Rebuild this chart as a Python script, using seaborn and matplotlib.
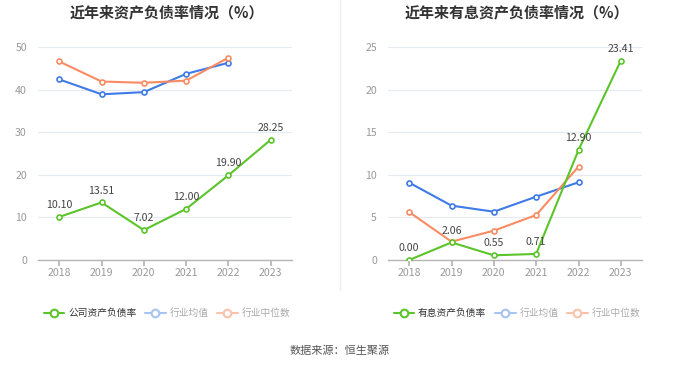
import matplotlib
matplotlib.use("Agg")
import matplotlib.pyplot as plt
from matplotlib.lines import Line2D
import seaborn as sns
import pandas as pd

years = ["2018", "2019", "2020", "2021", "2022", "2023"]

# Left chart: 资产负债率
company_debt = [10.10, 13.51, 7.02, 12.00, 19.90, 28.25]
industry_avg_left = [42.4, 38.9, 39.4, 43.7, 46.3]
industry_med_left = [46.6, 41.9, 41.6, 42.1, 47.5]

# Right chart: 有息资产负债率
interest_debt = [0.00, 2.06, 0.55, 0.71, 12.90, 23.41]
industry_avg_right = [9.08, 6.38, 5.67, 7.43, 9.12]
industry_med_right = [5.63, 2.15, 3.44, 5.28, 10.95]

left_title = "近年来资产负债率情况（%）"
right_title = "近年来有息资产负债率情况（%）"
left_names = ["公司资产负债率", "行业均值", "行业中位数"]
right_names = ["有息资产负债率", "行业均值", "行业中位数"]
source_text = "数据来源：恒生聚源"

GREEN = "#5cc42b"
BLUE = "#3f7be6"
ORANGE = "#fa8b63"
LBLUE = "#a8c3f3"
LORANGE = "#fcc1aa"

sns.set_theme(style="white")
plt.rcParams["font.family"] = ["Noto Sans CJK SC", "DejaVu Sans"]

fig = plt.figure(figsize=(6.8, 3.67), dpi=100)
ax1 = fig.add_axes([38/680, 1-260/367, 254/680, 213/367])
ax2 = fig.add_axes([388/680, 1-260/367, 254/680, 213/367])


def draw(ax, main, avg, med, ymax, step, names, title, cx):
    df = pd.DataFrame({
        "year": years + years[:len(avg)] + years[:len(med)],
        "value": main + avg + med,
        "series": [names[0]] * len(main) + [names[1]] * len(avg) + [names[2]] * len(med),
    })
    df["x"] = df["year"].map({y: i for i, y in enumerate(years)})
    for name, color, z in [(names[1], BLUE, 3), (names[2], ORANGE, 3), (names[0], GREEN, 4)]:
        sub = df[df["series"] == name]
        sns.lineplot(data=sub, x="x", y="value", ax=ax, color=color, linewidth=1.5,
                     marker="o", markersize=3.6, markerfacecolor="white",
                     markeredgecolor=color, markeredgewidth=1.2, zorder=z,
                     legend=False, errorbar=None)
    for i, v in enumerate(main):
        ax.annotate(f"{v:.2f}", (i, v), xytext=(0, 5), textcoords="offset points",
                    ha="center", va="bottom", fontsize=7.6, color="#444444", zorder=6)
    ax.set_xlim(-0.5, 5.5)
    ax.set_ylim(0, ymax)
    ax.set_yticks(range(0, ymax + 1, step))
    ax.set_xticks(range(len(years)))
    ax.set_xticklabels(years)
    ax.set_xlabel("")
    ax.set_ylabel("")
    ax.grid(axis="y", color="#e4e9f2", linewidth=0.8)
    ax.set_axisbelow(True)
    for s in ["top", "right", "left"]:
        ax.spines[s].set_visible(False)
    ax.spines["bottom"].set_color("#b5b5b5")
    ax.spines["bottom"].set_linewidth(1.0)
    ax.tick_params(axis="y", length=0, labelsize=7.6, labelcolor="#999999", pad=8)
    ax.tick_params(axis="x", length=4, color="#b5b5b5", labelsize=7.6, labelcolor="#999999", pad=2, bottom=True)
    fig.text(cx, 1 - 12/367, title, ha="center", va="center", fontsize=10.8,
             fontweight="bold", color="#333333")
    handles = [
        Line2D([], [], color=GREEN, lw=1.5, marker="o", markersize=5.5, markerfacecolor="white", markeredgewidth=1.5),
        Line2D([], [], color=LBLUE, lw=1.5, marker="o", markersize=5.5, markerfacecolor="white", markeredgewidth=1.5),
        Line2D([], [], color=LORANGE, lw=1.5, marker="o", markersize=5.5, markerfacecolor="white", markeredgewidth=1.5),
    ]
    leg = fig.legend(handles, names, loc="center", bbox_to_anchor=(cx, 1 - 313/367),
                     ncol=3, frameon=False, fontsize=7, handlelength=2.1,
                     handletextpad=0.4, columnspacing=0.9)
    cols = ["#333333", "#aaaaaa", "#aaaaaa"]
    for t, c in zip(leg.get_texts(), cols):
        t.set_color(c)


draw(ax1, company_debt, industry_avg_left, industry_med_left, 50, 10, left_names, left_title, 167/680)
draw(ax2, interest_debt, industry_avg_right, industry_med_right, 25, 5, right_names, right_title, 517/680)

fig.add_artist(Line2D([340/680, 340/680], [1 - 290/367, 1.0], color="#eeeeee", lw=1))
fig.text(0.5, 1 - 351/367, source_text, ha="center", va="center", fontsize=8, color="#555555")

fig.savefig("out.png", dpi=100)
